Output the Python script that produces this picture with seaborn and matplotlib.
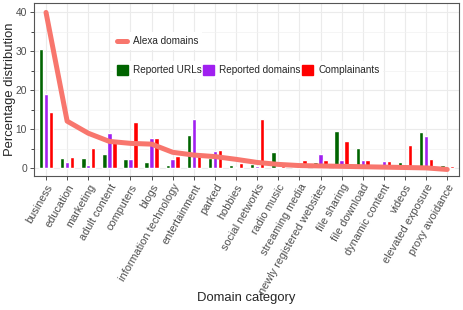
import pandas as pd
import matplotlib.pyplot as plt
import seaborn as sns
from matplotlib.lines import Line2D
from matplotlib.patches import Patch
from matplotlib.ticker import MultipleLocator

sns.set_style('whitegrid', {'xtick.bottom': True, 'ytick.left': True,
                            'grid.color': '#EBEBEB', 'axes.edgecolor': '#555555'})
plt.rcParams['font.family'] = ['Liberation Sans', 'DejaVu Sans']

# --- data (percent) ---
categories = ['business', 'education', 'marketing', 'adult content', 'computers',
              'blogs', 'information technology', 'entertainment', 'parked', 'hobbies',
              'social networks', 'radio music', 'streaming media',
              'newly registered websites', 'file sharing', 'file download',
              'dynamic content', 'videos', 'elevated exposure', 'proxy avoidance']
alexa = [40.0, 12.1, 9.0, 6.9, 6.4, 6.2, 4.1, 3.4, 3.0, 2.3,
         1.5, 1.0, 0.7, 0.6, 0.5, 0.4, 0.3, 0.2, 0.1, -0.3]
reported_urls = [30.7, 2.6, 2.6, 3.7, 2.3, 1.5, 0.9, 8.5, 2.6, 0.9,
                 1.2, 4.3, 0.2, 1.7, 9.6, 5.2, 0.1, 1.6, 9.2, 0.9]
reported_domains = [19.0, 1.7, 0.9, 9.0, 2.4, 7.8, 2.3, 12.6, 4.5, 0.4,
                    0.7, 0.3, 0.3, 3.7, 2.0, 2.1, 1.8, 0.1, 8.4, 0.3]
complainants = [14.4, 3.0, 5.1, 7.3, 12.0, 7.7, 3.2, 3.5, 4.7, 1.4,
                12.6, 0.5, 2.1, 2.1, 7.0, 2.1, 1.9, 6.1, 2.4, 0.6]
series_names = ['Reported URLs', 'Reported domains', 'Complainants']
series_colors = ['#006400', '#A020F0', '#FF0000']
line_color = '#F8766D'

df = pd.DataFrame({
    'category': categories * 3,
    'value': reported_urls + reported_domains + complainants,
    'series': [s for s in series_names for _ in categories],
})

fig, ax = plt.subplots(figsize=(4.63, 3.10), dpi=100)
fig.subplots_adjust(left=0.0734, right=0.991, top=0.990, bottom=0.432)

sns.barplot(data=df, x='category', y='value', hue='series', order=categories,
            hue_order=series_names, palette=series_colors, saturation=1,
            width=0.7, gap=0.1, legend=False, ax=ax)
sns.lineplot(x=categories, y=alexa, color=line_color, lw=3.6, sort=False,
             ax=ax, zorder=5)

ax.set_xlim(-0.57, 19.55)
ax.set_ylim(-2.0, 42.4)
ax.set_yticks([0, 10, 20, 30, 40])
ax.yaxis.set_minor_locator(MultipleLocator(5))
ax.grid(which='major', color='#EBEBEB', lw=0.8)
ax.grid(which='minor', axis='y', color='#F2F2F2', lw=0.5)
ax.set_axisbelow(True)
for sp in ax.spines.values():
    sp.set_color('#555555')
    sp.set_linewidth(0.8)

ax.tick_params(axis='both', length=3, width=0.6, color='#333333',
               labelcolor='#4D4D4D', pad=2)
ax.tick_params(axis='x', labelsize=7.8, pad=1.5)
ax.tick_params(axis='y', labelsize=7.4)
plt.setp(ax.get_xticklabels(), rotation=60, ha='right', va='top',
         rotation_mode='anchor')
ax.set_xlabel('Domain category', fontsize=9.4, va='center')
ax.set_ylabel('Percentage distribution', fontsize=9.4, va='center')
ax.xaxis.set_label_coords(0.5, -0.705)
ax.yaxis.set_label_coords(-0.056, 0.5)

leg1 = ax.legend(handles=[Line2D([], [], color=line_color, lw=3.6)],
                 labels=['Alexa domains'], loc='center left',
                 bbox_to_anchor=(0.186, 0.780), frameon=True, facecolor='white',
                 edgecolor='none', framealpha=1, fancybox=False, fontsize=7.2,
                 handlelength=1.0, handletextpad=0.55, borderaxespad=0,
                 borderpad=0.4)
ax.add_artist(leg1)
ax.legend(handles=[Patch(color=c) for c in series_colors], labels=series_names,
          ncol=3, loc='center left', bbox_to_anchor=(0.186, 0.613),
          frameon=True, facecolor='white', edgecolor='none', framealpha=1,
          fancybox=False, fontsize=7.2, handlelength=1.05, handleheight=1.1,
          handletextpad=0.55, columnspacing=0.15, borderaxespad=0, borderpad=0.4)

fig.savefig('out.png', dpi=100)
